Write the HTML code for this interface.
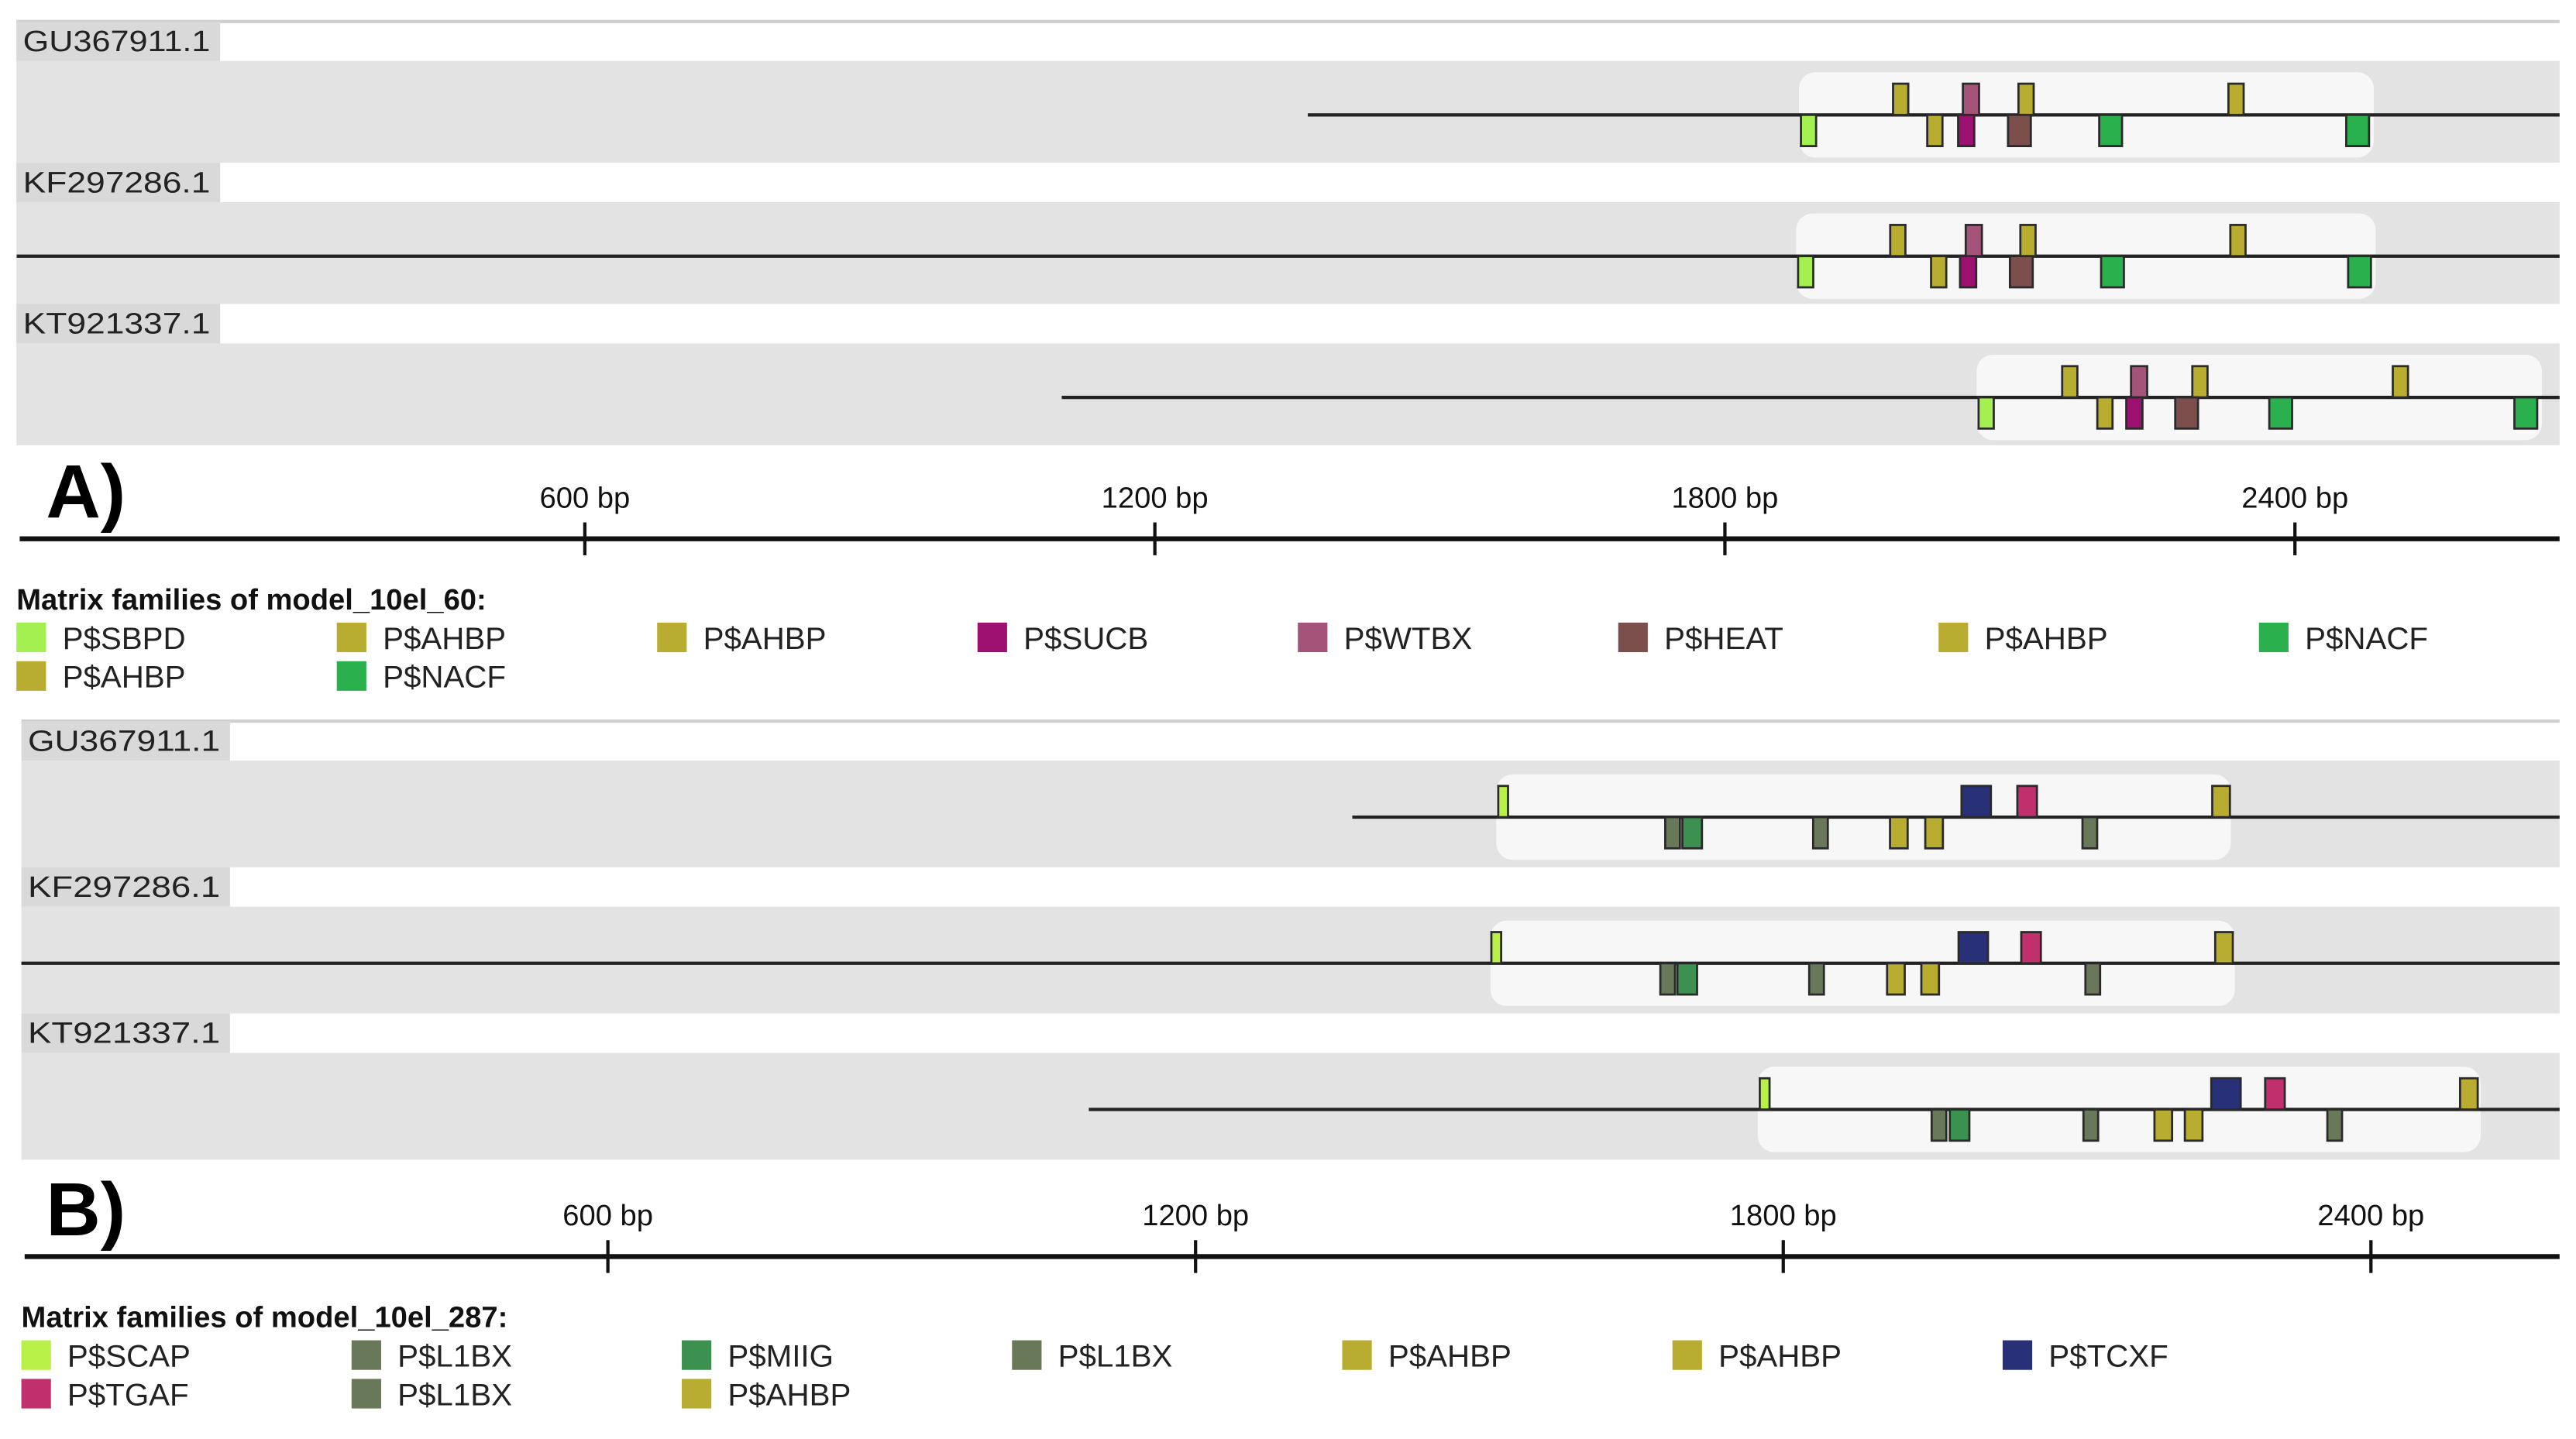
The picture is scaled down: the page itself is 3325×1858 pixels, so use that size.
<!DOCTYPE html>
<html><head><meta charset="utf-8"><style>
html,body{margin:0;padding:0;background:#fff;}
svg{display:block;font-family:"Liberation Sans",sans-serif;}
</style></head><body>
<svg id="chart" width="3325" height="1858" viewBox="0 0 1568 876" xmlns="http://www.w3.org/2000/svg">
<g id="root"></g>
</svg>
<script>
// ---- Data (positions in bp) ----
const colorsA = {SBPD:"#a4f050",AHBP:"#b8ad30",SUCB:"#9c1070",WTBX:"#a45478",HEAT:"#7c4e4c",NACF:"#2ab04c"};
const colorsB = {SCAP:"#b8f048",L1BX:"#687858",MIIG:"#3c9050",AHBP:"#b8ad30",TCXF:"#283078",TGAF:"#c0306c"};
const widthsA = {SBPD:16,AHBP:16,SUCB:17,WTBX:17,HEAT:24,NACF:24};
const widthsB = {SCAP:10,L1BX:15,MIIG:20,AHBP:18,TCXF:30,TGAF:20};

const seqNames = ["GU367911.1","KF297286.1","KT921337.1"];
const tickValues = [600,1200,1800,2400];
const tickLabels = ["600 bp","1200 bp","1800 bp","2400 bp"];

// Panel A
const aLineStart = [1361, 2, 1102];
const aBoxStart = [1878, 1875, 2065];
const aBoxEnd = [2483, 2485, 2660];
const aTopFam = ["AHBP","WTBX","AHBP","AHBP"];
const aTopPos = [[1985,2059,2117,2338],[1982,2062,2119,2340],[2163,2236,2300,2511]];
const aBotFam = ["SBPD","AHBP","SUCB","HEAT","NACF","NACF"];
const aBotPos = [[1888,2021,2054,2110,2206,2466],[1885,2025,2056,2112,2208,2468],[2075,2200,2231,2286,2385,2643]];
const legendA = ["SBPD","AHBP","AHBP","SUCB","WTBX","HEAT","AHBP","NACF","AHBP","NACF"];

// Panel B
const bLineStart = [1360, 0, 1091];
const bBoxStart = [1507, 1501, 1774];
const bBoxEnd = [2257, 2261, 2512];
const bTopFam = ["SCAP","TCXF","TGAF","AHBP"];
const bTopPos = [[1514,1997,2049,2247],[1507,1994,2053,2250],[1781,2252,2302,2500]];
const bBotFam = ["L1BX","MIIG","L1BX","AHBP","AHBP","L1BX"];
const bBotPos = [[1687,1707,1838,1918,1954,2113],[1682,1702,1834,1915,1950,2116],[1959,1980,2114,2188,2219,2363]];
const legendB = ["SCAP","L1BX","MIIG","L1BX","AHBP","AHBP","TCXF","TGAF","L1BX","AHBP"];

const NS="http://www.w3.org/2000/svg";
const root=document.getElementById('root');
function mk(tag,attrs,parent){const e=document.createElementNS(NS,tag);for(const k in attrs)e.setAttribute(k,attrs[k]);(parent||root).appendChild(e);return e;}

function panel(cfg){
  const xs = bp => cfg.x0 + bp*cfg.k;
  const g=mk('g',{});
  
  
  mk('rect',{x:cfg.left,y:cfg.top-1,width:1558-cfg.left,height:2,fill:'#cfcfcf'},g);
  for(let i=0;i<3;i++){
    const y0=cfg.top+i*cfg.rowH;
    const lab=mk('rect',{x:cfg.left,y:y0,width:cfg.labW,height:24,fill:'#d9d9d9'},g);
    
    
    const t=mk('text',{x:cfg.left+4,y:y0+18,'font-size':18,fill:'#222',textLength:cfg.labW-10,lengthAdjust:'spacingAndGlyphs'},g);
    t.textContent=seqNames[i];
    
    
    const bandY=y0+24, bandH=cfg.rowH-24;
    const band=mk('rect',{x:cfg.left,y:bandY,width:1558-cfg.left,height:bandH,fill:'#e3e3e3'},g);
    
    
    const lineY=bandY+bandH*0.53;
    const bs=xs(cfg.boxStart[i]), be=Math.min(xs(cfg.boxEnd[i]),1556);
    const hb=mk('rect',{x:bs,y:lineY-26,width:be-bs,height:52,rx:10,fill:'#f7f7f7'},g);
    
    
    const ls=Math.max(xs(cfg.lineStart[i]),cfg.left);
    const ln=mk('line',{x1:ls,y1:lineY,x2:1558,y2:lineY,stroke:'#222','stroke-width':2},g);
    
    
    const draw=(fams,pos,top)=>{
      for(let j=0;j<fams.length;j++){
        const f=fams[j], w=cfg.widths[f]*cfg.k;
        const r=mk('rect',{x:xs(pos[i][j])-w/2,y:top?lineY-19:lineY,width:w,height:19,fill:cfg.colors[f],stroke:'#2a2a2a','stroke-width':1.3},g);
        
        
      }
    };
    draw(cfg.topFam,cfg.topPos,true);
    draw(cfg.botFam,cfg.botPos,false);
  }
  const ay=cfg.axisY;
  const pl=mk('text',{x:28,y:ay-13,'font-size':46,'font-weight':'bold',fill:'#000'},g);
  pl.textContent=cfg.letter;
  
  
  const ax=mk('line',{x1:cfg.left+2,y1:ay,x2:1558,y2:ay,stroke:'#111','stroke-width':3},g);
  
  
  tickValues.forEach((v,j)=>{
    const x=xs(v);
    const tk=mk('line',{x1:x,y1:ay-10,x2:x,y2:ay+10,stroke:'#111','stroke-width':2},g);
    
    
    const tl=mk('text',{x:x,y:ay-19,'font-size':18,'text-anchor':'middle',fill:'#111'},g);
    tl.textContent=tickLabels[j];
    
    
  });
  const lt=mk('text',{x:cfg.left,y:ay+43,'font-size':18,'font-weight':'bold',fill:'#111'},g);
  lt.textContent=cfg.legendTitle;
  
  
  cfg.legend.forEach((f,j)=>{
    const col=j%cfg.perRow, row=Math.floor(j/cfg.perRow);
    const lx=cfg.left+col*cfg.colW, ly=ay+51+row*23.5;
    const sw=mk('rect',{x:lx,y:ly,width:18,height:18,fill:cfg.colors[f]},g);
    
    
    const tx=mk('text',{x:lx+28,y:ly+16,'font-size':19,fill:'#222'},g);
    tx.textContent='P$'+f;
    
    
  });
}

panel({name:'panel-a',letter:'A)',x0:9,k:0.5783,left:10,top:13,rowH:86,labW:124,axisY:328,
  colors:colorsA,widths:widthsA,lineStart:aLineStart,boxStart:aBoxStart,boxEnd:aBoxEnd,
  topFam:aTopFam,topPos:aTopPos,botFam:aBotFam,botPos:aBotPos,legend:legendA,perRow:8,colW:195,
  legendTitle:'Matrix families of model_10el_60:'});
panel({name:'panel-b',letter:'B)',x0:12.3,k:0.5962,left:13,top:439,rowH:89,labW:127,axisY:765,
  colors:colorsB,widths:widthsB,lineStart:bLineStart,boxStart:bBoxStart,boxEnd:bBoxEnd,
  topFam:bTopFam,topPos:bTopPos,botFam:bBotFam,botPos:bBotPos,legend:legendB,perRow:7,colW:201,
  legendTitle:'Matrix families of model_10el_287:'});
</script>
</body></html>
